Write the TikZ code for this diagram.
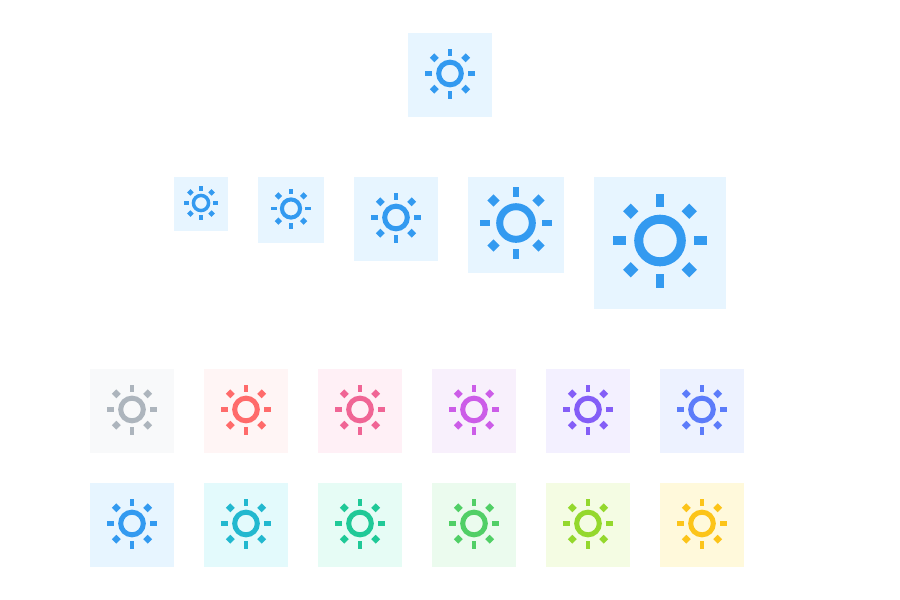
\documentclass[tikz,border=0pt]{standalone}
\usepackage{xcolor}
\definecolor{cgray}{HTML}{ADB5BD}\definecolor{bgray}{HTML}{F8F9FA}
\definecolor{cred}{HTML}{FF6B6B}\definecolor{bred}{HTML}{FFF5F5}
\definecolor{cpink}{HTML}{F06595}\definecolor{bpink}{HTML}{FFF0F6}
\definecolor{cgrape}{HTML}{CC5DE8}\definecolor{bgrape}{HTML}{F8F0FC}
\definecolor{cviolet}{HTML}{845EF7}\definecolor{bviolet}{HTML}{F3F0FF}
\definecolor{cindigo}{HTML}{5C7CFA}\definecolor{bindigo}{HTML}{EDF2FF}
\definecolor{cblue}{HTML}{339AF0}\definecolor{bblue}{HTML}{E7F5FF}
\definecolor{ccyan}{HTML}{22B8CF}\definecolor{bcyan}{HTML}{E3FAFC}
\definecolor{cteal}{HTML}{20C997}\definecolor{bteal}{HTML}{E6FCF5}
\definecolor{cgreen}{HTML}{51CF66}\definecolor{bgreen}{HTML}{EBFBEE}
\definecolor{clime}{HTML}{94D82D}\definecolor{blime}{HTML}{F4FCE3}
\definecolor{cyellow}{HTML}{FCC419}\definecolor{byellow}{HTML}{FFF9DB}
% #1 left, #2 top, #3 box size, #4 sun centre y offset from top, #5 half span, #6 name
\newcommand{\sunbox}[6]{%
  \pgfmathsetmacro{\bx}{#1+#3/2}\pgfmathsetmacro{\cy}{#2+#4}\pgfmathsetmacro{\su}{#5/47}
  \fill[b#6] (#1,#2) rectangle ++(#3,#3);
  \begin{scope}[shift={(\bx,\cy)},c#6]
    \pgfmathsetlengthmacro{\rw}{(8.6*\su+0.4)*1pt}
    \draw[line width=\rw] (0,0) circle ({21.3*\su});
    \pgfmathsetmacro{\rh}{4.2*\su+0.2}
    \pgfmathsetmacro{\rin}{#5-12.6*\su-0.6}
    \foreach \a in {0,90,180,270}{
      \fill[rotate=\a] (\rin,-\rh) rectangle (#5,\rh);}
    \pgfmathsetmacro{\dm}{41*\su+0.4}
    \pgfmathsetmacro{\dh}{4.8*\su+0.6}
    \foreach \a in {45,135,225,315}{
      \fill[rotate=\a] ({\dm-\dh},-\dh) rectangle ({\dm+\dh},\dh);}
  \end{scope}}
\begin{document}
\begin{tikzpicture}[x=1pt,y=-1pt]
\useasboundingbox (0,0) rectangle (900,600);
\fill[white] (0,0) rectangle (900,600);
\sunbox{408}{33}{84}{40.5}{25}{blue}
\sunbox{174}{177}{54}{26}{16.7}{blue}
\sunbox{258}{177}{66}{31.5}{20}{blue}
\sunbox{354}{177}{84}{40.5}{25}{blue}
\sunbox{468}{177}{96}{46}{36}{blue}
\sunbox{594}{177}{132}{63.5}{47}{blue}
\foreach \x/\n in {90/gray,204/red,318/pink,432/grape,546/violet,660/indigo}{
  \sunbox{\x}{369}{84}{40.5}{25}{\n}}
\foreach \x/\n in {90/blue,204/cyan,318/teal,432/green,546/lime,660/yellow}{
  \sunbox{\x}{483}{84}{40.5}{25}{\n}}
\end{tikzpicture}
\end{document}
